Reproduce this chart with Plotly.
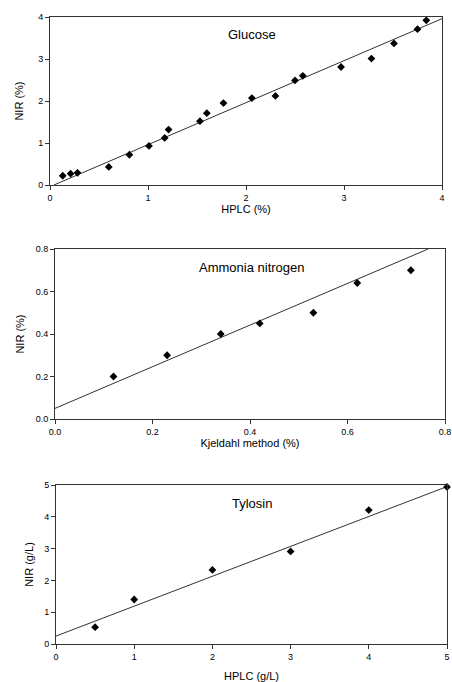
import plotly.graph_objects as go

# Glucose panel
glu_hplc = [0.13, 0.21, 0.28, 0.60, 0.81, 1.01, 1.17, 1.21, 1.53, 1.60, 1.77, 2.06, 2.30, 2.50, 2.58, 2.97, 3.28, 3.51, 3.75, 3.84]
glu_nir = [0.22, 0.27, 0.29, 0.43, 0.72, 0.93, 1.12, 1.32, 1.52, 1.71, 1.95, 2.07, 2.12, 2.49, 2.60, 2.81, 3.01, 3.37, 3.71, 3.92]
glu_fit = (1.0, -0.04)  # slope, intercept

# Ammonia nitrogen panel
amm_kjel = [0.12, 0.23, 0.34, 0.42, 0.53, 0.62, 0.73]
amm_nir = [0.20, 0.30, 0.40, 0.45, 0.50, 0.64, 0.70]
amm_fit = (0.98, 0.05)

# Tylosin panel
tyl_hplc = [0.5, 1.0, 2.0, 3.0, 4.0, 5.0]
tyl_nir = [0.53, 1.40, 2.33, 2.91, 4.21, 4.94]
tyl_fit = (0.94, 0.25)

panels = [
    dict(name="Glucose", x=glu_hplc, y=glu_nir, fit=glu_fit, xr=[0, 4], yr=[0, 4],
         xt=[0, 1, 2, 3, 4], yt=[0, 1, 2, 3, 4], fmt="d",
         xtitle="HPLC (%)", ytitle="NIR (%)"),
    dict(name="Ammonia nitrogen", x=amm_kjel, y=amm_nir, fit=amm_fit, xr=[0, 0.8], yr=[0, 0.8],
         xt=[0, 0.2, 0.4, 0.6, 0.8], yt=[0, 0.2, 0.4, 0.6, 0.8], fmt=".1f",
         xtitle="Kjeldahl method (%)", ytitle="NIR (%)"),
    dict(name="Tylosin", x=tyl_hplc, y=tyl_nir, fit=tyl_fit, xr=[0, 5], yr=[0, 5],
         xt=[0, 1, 2, 3, 4, 5], yt=[0, 1, 2, 3, 4, 5], fmt="d",
         xtitle="HPLC (g/L)", ytitle="NIR (g/L)"),
]

W, H = 452, 682
# plot-area pixel boxes (left, right, top, bottom) and title standoffs (x, y)
boxes = [(50, 442, 17, 185), (55, 445, 249, 419), (56, 447, 485, 644)]
standoffs = [(0, 12), (0, 8), (13, 8)]

fig = go.Figure()
FONT = "Liberation Sans, Arial, sans-serif"

for i, (p, b, so) in enumerate(zip(panels, boxes, standoffs)):
    n = "" if i == 0 else str(i + 1)
    xa, ya = "x" + n, "y" + n
    slope, icpt = p["fit"]
    # regression line clipped to plot box
    x0 = max(p["xr"][0], (p["yr"][0] - icpt) / slope)
    x1 = min(p["xr"][1], (p["yr"][1] - icpt) / slope)
    fig.add_trace(go.Scatter(x=[x0, x1], y=[slope * x0 + icpt, slope * x1 + icpt],
                             mode="lines", line=dict(color="#333333", width=1),
                             xaxis=xa, yaxis=ya, showlegend=False, hoverinfo="skip"))
    fig.add_trace(go.Scatter(x=p["x"], y=p["y"], mode="markers",
                             marker=dict(symbol="diamond", size=6, color="black"),
                             cliponaxis=False, name=p["name"],
                             xaxis=xa, yaxis=ya, showlegend=False))
    left, right, top, bottom = b
    axcommon = dict(showgrid=False, zeroline=False, showline=True, linecolor="#333333",
                    linewidth=1, mirror=True, ticks="outside", ticklen=4, tickcolor="#333333",
                    tickfont=dict(family=FONT, size=9, color="black"),
                    tickformat=p["fmt"], automargin=False)
    fig.layout["xaxis" + n] = dict(axcommon, domain=[left / W, right / W], range=p["xr"],
                                   tickvals=p["xt"], anchor=ya,
                                   title=dict(text=p["xtitle"], font=dict(family=FONT, size=11, color="black"),
                                              standoff=so[0]))
    fig.layout["yaxis" + n] = dict(axcommon, domain=[1 - bottom / H, 1 - top / H], range=p["yr"],
                                   tickvals=p["yt"], anchor=xa,
                                   title=dict(text=p["ytitle"], font=dict(family=FONT, size=11, color="black"),
                                              standoff=so[1]))
    fig.add_annotation(text=p["name"], xref=xa + " domain", yref=ya + " domain",
                       x=0.5 + (252 - (left + right) / 2) / (right - left), y=1 - 18 / (bottom - top),
                       showarrow=False, font=dict(family=FONT, size=13, color="black"),
                       xanchor="center", yanchor="middle")

fig.update_layout(width=W, height=H, margin=dict(l=0, r=0, t=0, b=0),
                  paper_bgcolor="white", plot_bgcolor="white")
fig.write_html("out.html", config={"displayModeBar": False},
               post_script="document.body.style.margin='0';document.body.style.overflow='hidden';")
